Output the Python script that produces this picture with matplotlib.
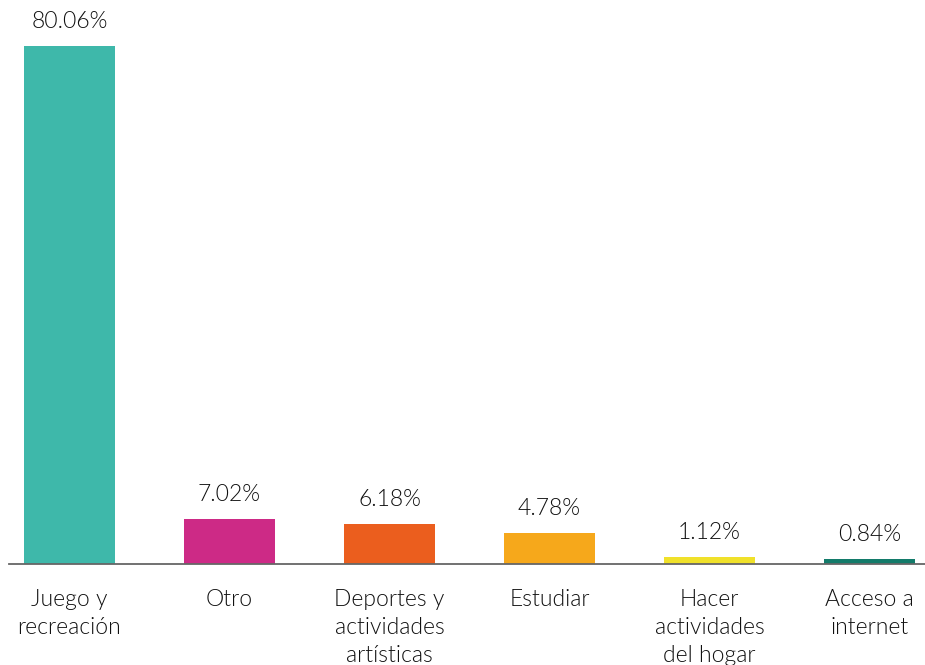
import matplotlib
matplotlib.use("Agg")
import matplotlib.pyplot as plt

categories = ["Juego y\nrecreación", "Otro", "Deportes y\nactividades\nartísticas",
              "Estudiar", "Hacer\nactividades\ndel hogar", "Acceso a\ninternet"]
values = [80.06, 7.02, 6.18, 4.78, 1.12, 0.84]
value_labels = ["80.06%", "7.02%", "6.18%", "4.78%", "1.12%", "0.84%"]
colors = ["#3EB8AA", "#CD2A86", "#EB5E1E", "#F6A81B", "#F0E12A", "#137B6A"]

plt.rcParams['font.family'] = ['Lato', 'DejaVu Sans']

W, H = 925, 665
fig = plt.figure(figsize=(W / 100, H / 100), dpi=100)
ax = fig.add_axes([9 / W, (H - 564) / H, 1 - 9 / W, 518 / H])

x = list(range(len(values)))
ax.bar(x, values, width=0.57, color=colors, zorder=2)
ax.set_xlim(-0.378, 5.347)
ax.set_ylim(0, 80.06)

for xi, v, lab in zip(x, values, value_labels):
    ax.annotate(lab, (xi, v), xytext=(0, 10), textcoords="offset points",
                ha="center", va="bottom", fontsize=16.5, fontweight=300,
                color="#111111", annotation_clip=False)

for xi, c in zip(x, categories):
    ax.annotate(c, (xi, 0), xytext=(0, -18), textcoords="offset points",
                ha="center", va="top", fontsize=16.5, fontweight=300,
                color="#111111", linespacing=1.42, annotation_clip=False)

for s in ["top", "right", "left"]:
    ax.spines[s].set_visible(False)
ax.spines["bottom"].set_color("#666666")
ax.spines["bottom"].set_linewidth(1.3)
ax.spines["bottom"].set_zorder(3)
ax.set_xticks([])
ax.set_yticks([])
ax.patch.set_alpha(0)

fig.savefig("out.png", dpi=100)
